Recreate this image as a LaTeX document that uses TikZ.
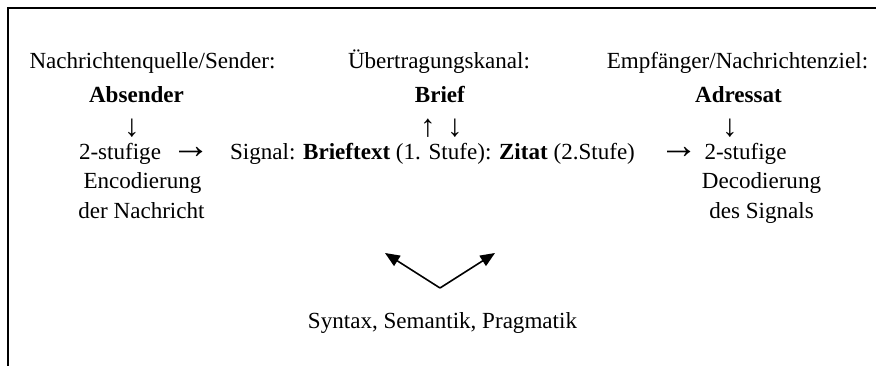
\documentclass[tikz,border=0pt]{standalone}
\usepackage{fontspec}
\setmainfont{Liberation Serif}
\usetikzlibrary{arrows.meta}
\begin{document}
\begin{tikzpicture}[x=0.75pt,y=-0.75pt,
  txt/.style={inner sep=0pt,anchor=base,font=\fontsize{17.3}{20}\selectfont},
  glyph/.style={inner sep=0pt,anchor=center,font=\fontsize{17.3}{20}\selectfont},
  frame/.style={line width=2pt,line cap=rect},
  varrow/.style={line width=1.2pt,-{Triangle[length=11pt,width=9pt]}}]
\useasboundingbox (0,0) rectangle (876,365);
% frame (top and left only)
\coordinate (ftr) at (876,8);
\coordinate (ftl) at (8,8);
\coordinate (fbl) at (8,365);
\draw[frame] (ftr) -- (ftl) -- (fbl);
% left column
\node[txt] (src) at (152.5,68) {Nachrichtenquelle/Sender:};
\node[txt] (abs) at (136.5,102) {\textbf{Absender}};
\node[glyph] (arrL) at (132,128) {\scalebox{1.35}{↓}};
\node[txt] (stL) at (120,159) {2-stufige};
\node[txt] (enc) at (142.5,188) {Encodierung};
\node[txt] (nach) at (141.5,218) {der Nachricht};
% middle column
\node[txt] (kan) at (439,68) {Übertragungskanal:};
\node[txt] (brief) at (440,102) {\textbf{Brief}};
\node[glyph] (up) at (428,128) {\scalebox{1.35}{↑}};
\node[glyph] (dn) at (455,128) {\scalebox{1.35}{↓}};
\node[txt] (sig) at (432.5,159) {Signal: \textbf{Brieftext} (1. Stufe): \textbf{Zitat} (2.Stufe)};
\node[glyph] (toL) at (191.5,153) {\scalebox{1.7}{→}};
\node[glyph] (toR) at (679,153) {\scalebox{1.7}{→}};
% right column
\node[txt] (ziel) at (737.5,68) {Empfänger/Nachrichtenziel:};
\node[txt] (adr) at (738.5,102) {\textbf{Adressat}};
\node[glyph] (arrR) at (730,128) {\scalebox{1.35}{↓}};
\node[txt] (stR) at (745.5,159) {2-stufige};
\node[txt] (dec) at (761.5,188) {Decodierung};
\node[txt] (dsig) at (761.5,218) {des Signals};
% bottom
\coordinate (vtx) at (440,288);
\coordinate (tipL) at (385,253);
\coordinate (tipR) at (495,253);
\draw[varrow] (vtx) -- (tipL);
\draw[varrow] (vtx) -- (tipR);
\node[txt] (ssp) at (442.5,328) {Syntax, Semantik, Pragmatik};
\end{tikzpicture}
\end{document}
